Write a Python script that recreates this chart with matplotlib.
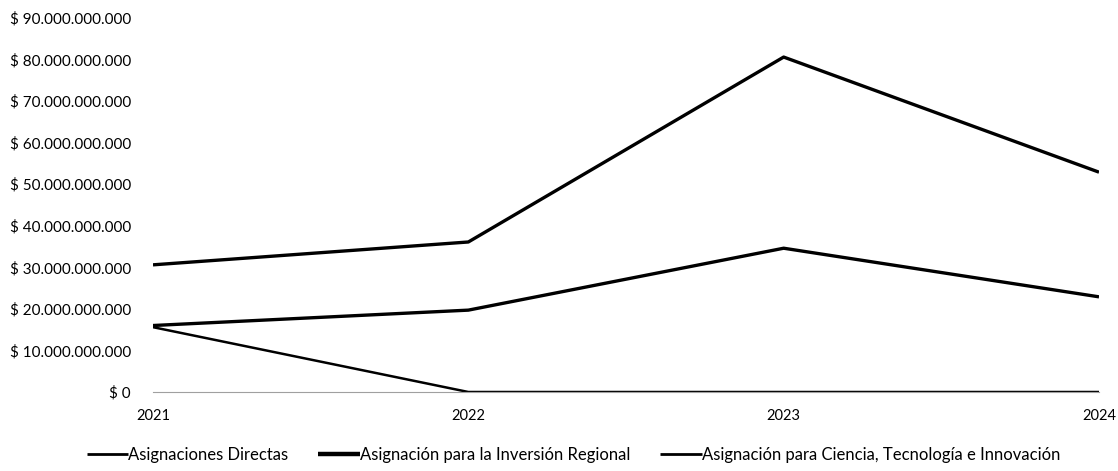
import matplotlib
matplotlib.use("Agg")
import matplotlib.pyplot as plt
from matplotlib.ticker import FuncFormatter

years = ["2021", "2022", "2023", "2024"]
directas  = [30.6e9, 36.1e9, 80.6e9, 52.9e9]
inversion = [16.0e9, 19.7e9, 34.6e9, 22.9e9]
ciencia   = [15.6e9, 0.0, 0.0, 0.0]
series_names = ["Asignaciones Directas",
                "Asignación para la Inversión Regional",
                "Asignación para Ciencia, Tecnología e Innovación"]
y_ticks = [i * 10e9 for i in range(10)]

plt.rcParams["font.family"] = ["Lato", "DejaVu Sans"]

def peso(v, _):
    s = f"{int(round(v)):,}".replace(",", ".")
    return f"$ {s}"

fig = plt.figure(figsize=(11.18, 4.71), dpi=100)
ax = fig.add_axes([153/1118, 79/471, (1099-153)/1118, (392-18)/471])

x = range(len(years))
ax.plot(x, directas, color="black", lw=2.4, label=series_names[0], solid_capstyle="butt")
ax.plot(x, inversion, color="black", lw=2.4, label=series_names[1], solid_capstyle="butt")
ax.plot(x, ciencia, color="black", lw=1.8, label=series_names[2], solid_capstyle="butt")

ax.set_xlim(0, len(years) - 1)
ax.set_ylim(0, 90e9)
ax.set_yticks(y_ticks)
ax.yaxis.set_major_formatter(FuncFormatter(peso))
ax.set_xticks(list(x))
ax.set_xticklabels(years)
ax.tick_params(axis="both", length=0, labelsize=10.5)
ax.tick_params(axis="y", pad=16, labelsize=11)
ax.tick_params(axis="x", pad=12)
for s in ["top", "right", "left"]:
    ax.spines[s].set_visible(False)
ax.spines["bottom"].set_color("#a0a0a0")
ax.spines["bottom"].set_linewidth(0.8)

leg = fig.legend(handles=ax.get_lines(), labels=series_names, loc="center",
                 bbox_to_anchor=(0.513, 16/471), ncol=3, frameon=False,
                 fontsize=12, handlelength=2.5, handletextpad=0.0, columnspacing=1.8)
for h, w in zip(leg.get_lines(), [2.0, 3.2, 2.0]):
    h.set_linewidth(w)

fig.savefig("out.png", dpi=100, facecolor="white")
